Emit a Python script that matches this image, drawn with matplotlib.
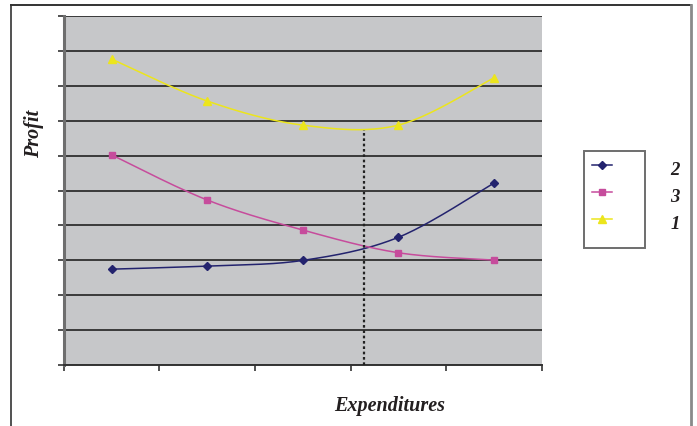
import numpy as np
import matplotlib
matplotlib.use("Agg")
import matplotlib.pyplot as plt
from matplotlib.lines import Line2D
from matplotlib.patches import Rectangle

# Category positions along the expenditure axis
categories = [1, 2, 3, 4, 5]

# Profit curves
series_1 = [8.76, 7.56, 6.87, 6.87, 8.22]
series_2 = [2.75, 2.84, 3.00, 3.66, 5.21]
series_3 = [6.02, 4.73, 3.87, 3.22, 3.01]

legend_labels = ["2", "3", "1"]
optimum_x = 3.64


def smooth(xs, ys, n=40):
    """Cubic Bezier smoothing through every point (Catmull-Rom style)."""
    pts = np.column_stack([xs, ys]).astype(float)
    out = [pts[0]]
    m = len(pts)
    for i in range(m - 1):
        p0 = pts[i - 1] if i > 0 else pts[i]
        p1 = pts[i]
        p2 = pts[i + 1]
        p3 = pts[i + 2] if i + 2 < m else pts[i + 1]
        c1 = p1 + (p2 - p0) / 6.0
        c2 = p2 - (p3 - p1) / 6.0
        t = np.linspace(0, 1, n)[1:, None]
        seg = ((1 - t) ** 3) * p1 + 3 * ((1 - t) ** 2) * t * c1 + 3 * (1 - t) * t ** 2 * c2 + t ** 3 * p2
        out.extend(seg)
    out = np.array(out)
    return out[:, 0], out[:, 1]


W, H = 697, 426
fig = plt.figure(figsize=(W / 100, H / 100), dpi=100)
fig.patch.set_facecolor("white")

ax = fig.add_axes([63.7 / W, 1 - 365.3 / H, (541.7 - 63.7) / W, (365.3 - 15.7) / H])
ax.set_facecolor("#c6c7c9")
ax.set_xlim(0.5, 5.5)
ax.set_ylim(0, 10)

ax.set_yticks(np.arange(0, 11, 1))
ax.set_xticks(np.arange(0.5, 6.0, 1))
ax.set_yticklabels([])
ax.set_xticklabels([])
ax.tick_params(axis="both", direction="out", length=4, width=1.2, color="#333333")
ax.grid(axis="y", color="#3a3a3a", linewidth=1.4)
ax.set_axisbelow(True)
for s in ("top", "right"):
    ax.spines[s].set_visible(False)
ax.spines["left"].set_color("#6e6e6e")
ax.spines["left"].set_linewidth(2.2)
ax.spines["bottom"].set_color("#333333")
ax.spines["bottom"].set_linewidth(1.4)

c_yellow = "#ece51c"
c_navy = "#23236e"
c_pink = "#c64c9c"

styles = [
    (series_2, c_navy, "D", 3.6),
    (series_3, c_pink, "s", 5.0),
    (series_1, c_yellow, "^", 5.5),
]
for vals, col, mk, ms in styles:
    sx, sy = smooth(categories, vals)
    ax.plot(sx, sy, color=col, linewidth=1.1, zorder=3)
    ax.plot(categories, vals, linestyle="none", marker=mk, markersize=ms,
            color=col, markeredgecolor=col, zorder=4)

# Vertical marker from the axis up to the "1" curve at the optimum
yx, yy = smooth(categories, series_1, n=400)
top = float(np.interp(optimum_x, yx, yy))
ax.plot([optimum_x, optimum_x], [0, top], color="#222222", linestyle=(0, (1.2, 1.2)),
        linewidth=1.6, zorder=5)

serif = ["Liberation Serif", "DejaVu Serif"]
txt_color = "#231f20"
fig.text(34 / W, 1 - 134 / H, "Profit", rotation=90, ha="center", va="center",
         fontsize=14.5, fontweight="bold", fontstyle="italic", family=serif, color=txt_color)
fig.text(390 / W, 1 - 406 / H, "Expenditures", ha="center", va="center",
         fontsize=14.5, fontweight="bold", fontstyle="italic", family=serif, color=txt_color)

# Legend: framed handle column with labels to its right
fig.add_artist(Rectangle((584 / W, 1 - 248.3 / H), (645 - 584) / W, (248.3 - 150.7) / H,
                         transform=fig.transFigure, fill=False, edgecolor="#6e6e6e", linewidth=1.4))
legend_rows = [(c_navy, "D", 3.6, 164.7), (c_pink, "s", 5.0, 191.7), (c_yellow, "^", 5.5, 219.0)]
for (col, mk, ms, yp), lab in zip(legend_rows, legend_labels):
    fig.add_artist(Line2D([592 / W, 612 / W], [1 - yp / H] * 2, transform=fig.transFigure,
                          color=col, linewidth=1.1))
    fig.add_artist(Line2D([602 / W], [1 - yp / H], transform=fig.transFigure, color=col,
                          marker=mk, markersize=ms, linestyle="none"))
    fig.text(675 / W, 1 - (yp + 6) / H, lab, ha="center", va="center", fontsize=13.5,
             fontweight="bold", fontstyle="italic", family=serif, color=txt_color)

# Outer chart frame
fig.add_artist(Line2D([11 / W, 11 / W], [0, 1 - 5 / H], transform=fig.transFigure,
                      color="#333333", linewidth=1.2))
fig.add_artist(Line2D([11 / W, 691 / W], [1 - 5 / H, 1 - 5 / H], transform=fig.transFigure,
                      color="#333333", linewidth=1.4))
fig.add_artist(Line2D([691 / W, 691 / W], [0, 1 - 5 / H], transform=fig.transFigure,
                      color="#8a8a8a", linewidth=2.0))

fig.savefig("out.png", dpi=100)
